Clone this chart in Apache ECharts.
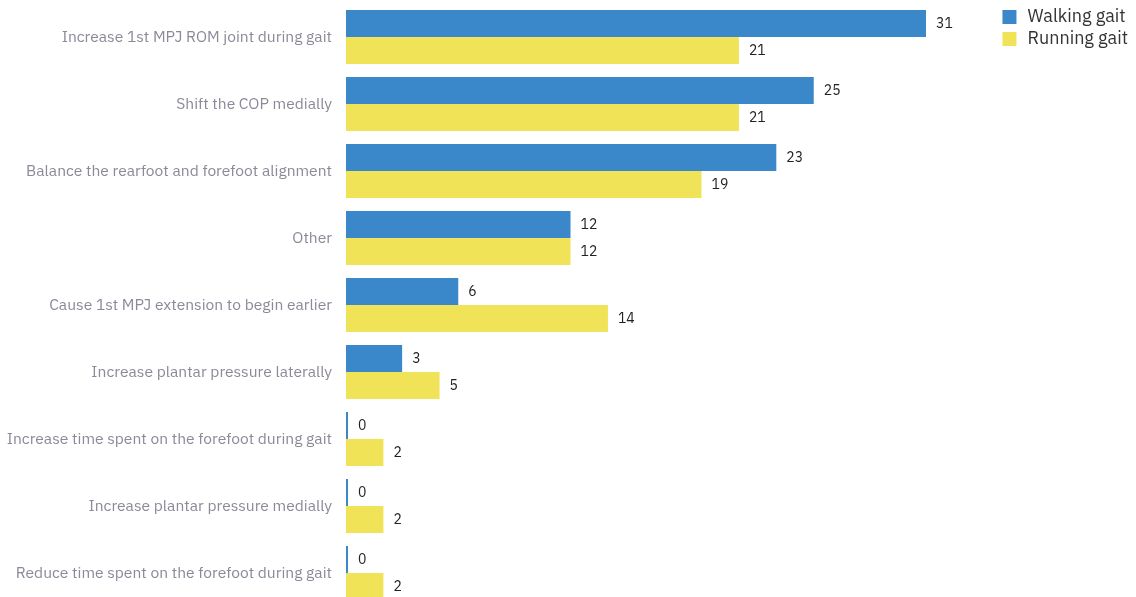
<!DOCTYPE html>
<html><head><meta charset="utf-8">
<script src="https://cdn.jsdelivr.net/npm/echarts@6/dist/echarts.min.js"></script>
<style>html,body{margin:0;padding:0;background:#fff;overflow:hidden}#c{width:1136px;height:610px}</style>
</head><body><div id="c"></div>
<script>
const categories = [
  "Increase 1st MPJ ROM joint during gait",
  "Shift the COP medially",
  "Balance the rearfoot and forefoot alignment",
  "Other",
  "Cause 1st MPJ extension to begin earlier",
  "Increase plantar pressure laterally",
  "Increase time spent on the forefoot during gait",
  "Increase plantar pressure medially",
  "Reduce time spent on the forefoot during gait"
];
const walking = [31, 25, 23, 12, 6, 3, 0, 0, 0];
const running = [21, 21, 19, 12, 14, 5, 2, 2, 2];
const seriesNames = ["Walking gait", "Running gait"];

const chart = echarts.init(document.getElementById('c'));
const font = "'IBM Plex Sans','Noto Sans',sans-serif";
chart.setOption({
  animation: false,
  textStyle: { fontFamily: font },
  legend: {
    orient: 'vertical', right: 3, top: 3, itemWidth: 14, itemHeight: 14, itemGap: 4, icon: 'rect',
    textStyle: { fontSize: 18, color: '#333', fontFamily: font, padding: [0, 0, 0, 6] },
    data: seriesNames
  },
  grid: { left: 346, right: 210, top: 3.5, height: 603, containLabel: false },
  xAxis: { type: 'value', min: 0, max: 31, show: false },
  yAxis: {
    type: 'category', data: categories, inverse: true,
    axisLine: { show: false }, axisTick: { show: false },
    axisLabel: { color: '#8a8a99', fontSize: 15.6, margin: 14, fontFamily: font }
  },
  series: [
    { name: seriesNames[0], type: 'bar', data: walking, barWidth: 27, barGap: '0%', barMinHeight: 2,
      itemStyle: { color: '#3a88c9' },
      label: { show: true, position: 'right', distance: 10, color: '#222', fontSize: 14, fontFamily: font } },
    { name: seriesNames[1], type: 'bar', data: running, barWidth: 27, barGap: '0%',
      itemStyle: { color: '#f0e358' },
      label: { show: true, position: 'right', distance: 10, color: '#222', fontSize: 14, fontFamily: font } }
  ]
});
</script></body></html>
